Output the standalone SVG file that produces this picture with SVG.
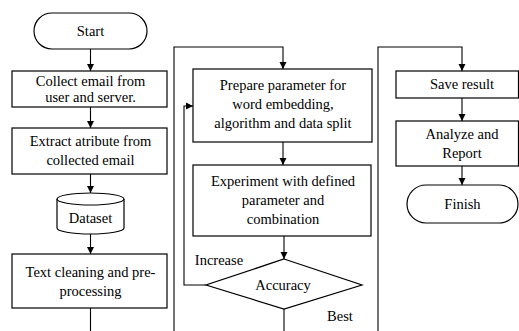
<svg xmlns="http://www.w3.org/2000/svg" width="519" height="331" viewBox="0 0 519 331" font-family="'Liberation Serif', 'DejaVu Serif', serif">
<defs>
<marker id="ah" markerWidth="8" markerHeight="8" refX="7" refY="4" orient="auto" markerUnits="userSpaceOnUse">
<path d="M0,0.5 L7,4 L0,7.5 Z" fill="#000"/>
</marker>
<style>
.b{fill:#fff;stroke:#000;stroke-width:1.2}
.c{fill:none;stroke:#000;stroke-width:1.1}
.t{font-family:'Liberation Serif','DejaVu Serif',serif;font-size:14.5px;fill:#000;text-anchor:middle}
</style>
</defs>
<rect width="519" height="331" fill="#fff"/>
<g id="connectors">
<line class="c" x1="90.5" y1="49" x2="90.5" y2="71" marker-end="url(#ah)"/>
<line class="c" x1="90.5" y1="107" x2="90.5" y2="128" marker-end="url(#ah)"/>
<line class="c" x1="90.5" y1="174" x2="90.5" y2="193" marker-end="url(#ah)"/>
<line class="c" x1="90.5" y1="234" x2="90.5" y2="254" marker-end="url(#ah)"/>
<line class="c" x1="90.5" y1="308" x2="90.5" y2="331"/>
<polyline class="c" points="174,331 174,47 283,47 283,69" marker-end="url(#ah)"/>
<line class="c" x1="283" y1="142" x2="283" y2="165" marker-end="url(#ah)"/>
<line class="c" x1="284" y1="236" x2="284" y2="259" marker-end="url(#ah)"/>
<polyline class="c" points="206,285 184,285 184,106 193,106" marker-end="url(#ah)"/>
<line class="c" x1="284" y1="309" x2="284" y2="331"/>
<polyline class="c" points="378,331 378,47 462,47 462,71" marker-end="url(#ah)"/>
<line class="c" x1="462" y1="98" x2="462" y2="121" marker-end="url(#ah)"/>
<line class="c" x1="462" y1="166" x2="462" y2="185" marker-end="url(#ah)"/>
<text class="t" x="219" y="265">Increase</text>
<text class="t" x="340" y="321">Best</text>
</g>
<g id="start">
<rect class="b" x="34" y="13" width="113" height="36" rx="18"/>
<text class="t" x="90.5" y="36">Start</text>
</g>
<g id="collect">
<rect class="b" x="12" y="71" width="155" height="36"/>
<text class="t" x="90.5" y="86">Collect email from</text>
<text class="t" x="90.5" y="102">user and server.</text>
</g>
<g id="extract">
<rect class="b" x="12" y="128" width="155" height="46"/>
<text class="t" x="90.5" y="146">Extract atribute from</text>
<text class="t" x="90.5" y="165">collected email</text>
</g>
<g id="dataset">
<path class="b" d="M57,199 A33.5,6 0 0 1 124,199 L124,228 A33.5,6 0 0 1 57,228 Z"/>
<path class="c" d="M57,199 A33.5,6 0 0 0 124,199"/>
<text class="t" x="90.5" y="223">Dataset</text>
</g>
<g id="cleaning">
<rect class="b" x="12" y="254" width="155" height="54"/>
<text class="t" x="90.5" y="277">Text cleaning and pre-</text>
<text class="t" x="90.5" y="296">processing</text>
</g>
<g id="prepare">
<rect class="b" x="193" y="69" width="179" height="73"/>
<text class="t" x="283" y="90">Prepare parameter for</text>
<text class="t" x="283" y="109">word embedding,</text>
<text class="t" x="283" y="128">algorithm and data split</text>
</g>
<g id="experiment">
<rect class="b" x="193" y="165" width="178" height="71"/>
<text class="t" x="283" y="186">Experiment with defined</text>
<text class="t" x="283" y="205">parameter and</text>
<text class="t" x="283" y="224">combination</text>
</g>
<g id="accuracy">
<polygon class="b" points="284,259 362,285 284,309 206,285"/>
<text class="t" x="283" y="290">Accuracy</text>
</g>
<g id="save">
<rect class="b" x="396" y="71" width="122.5" height="27"/>
<text class="t" x="462" y="89">Save result</text>
</g>
<g id="analyze">
<rect class="b" x="396" y="121" width="122.5" height="45"/>
<text class="t" x="462" y="139">Analyze and</text>
<text class="t" x="462" y="158">Report</text>
</g>
<g id="finish">
<rect class="b" x="407" y="185" width="111" height="38" rx="19"/>
<text class="t" x="462.5" y="209">Finish</text>
</g>
</svg>
